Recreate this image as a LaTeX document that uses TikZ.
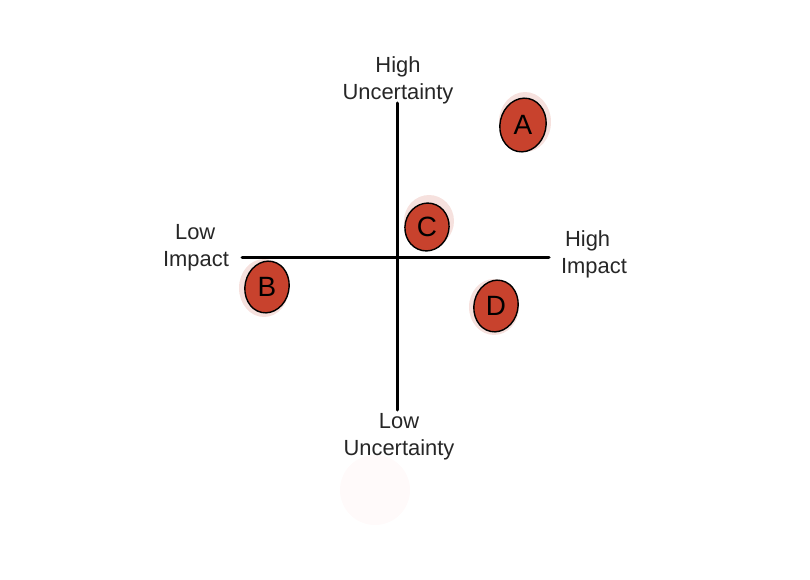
\documentclass[tikz,border=0pt]{standalone}
\usepackage{fontspec}
\setmainfont{Liberation Sans}
\usetikzlibrary{shapes.geometric}
\begin{document}
\begin{tikzpicture}[x=1bp,y=-1bp,
  axisline/.style={line width=3bp,black,line cap=round},
  lbl/.style={font=\fontsize{22}{27}\selectfont,align=center,inner sep=0pt,text=black!85},
  blob/.style={ellipse,draw=black,line width=1.4bp,fill=blobred,inner sep=0pt},
  letter/.style={font=\fontsize{28}{30}\selectfont,inner sep=0pt,text=black},
  halo/.style={fill=blobred!45,opacity=0.35}
]
\definecolor{blobred}{RGB}{200,66,45}
\useasboundingbox (0,0) rectangle (810,580);
% faint ghost circle
\fill[red!4,opacity=0.5] (375,490) circle (35);
% axes
\coordinate (vt) at (397,103);
\coordinate (vb) at (397,410);
\coordinate (hl) at (242,257);
\coordinate (hr) at (549,257);
\draw[axisline] (vt) -- (vb);
\draw[axisline] (hl) -- (hr);
% labels
\node[lbl] (hu) at (398,80) {High\\Uncertainty};
\node[lbl] (lu) at (399,437) {Low\\Uncertainty};
\node[lbl,align=left] (li) at (196,248) {\hspace*{12bp}Low\\Impact};
\node[lbl,align=left] (hi) at (594,254) {\hspace*{4bp}High\\Impact};
% soft halos
\fill[halo] (525,122) ellipse (26 and 30);
\fill[halo] (429,221) ellipse (25 and 26);
\fill[halo] (264,288) ellipse (25 and 29);
\fill[halo] (494,307) ellipse (25 and 28);
% blobs
\node[blob,minimum width=46bp,minimum height=54bp,rotate=-12] (A) at (523,125) {};
\node[blob,minimum width=44bp,minimum height=48bp,rotate=-12] (C) at (427,227) {};
\node[blob,minimum width=44bp,minimum height=52bp,rotate=-12] (B) at (267,287) {};
\node[blob,minimum width=44bp,minimum height=52bp,rotate=-12] (D) at (496,306) {};
\node[letter] (tA) at (A.center) {A};
\node[letter] (tC) at (C.center) {C};
\node[letter] (tB) at (B.center) {B};
\node[letter] (tD) at (D.center) {D};
\end{tikzpicture}
\end{document}
